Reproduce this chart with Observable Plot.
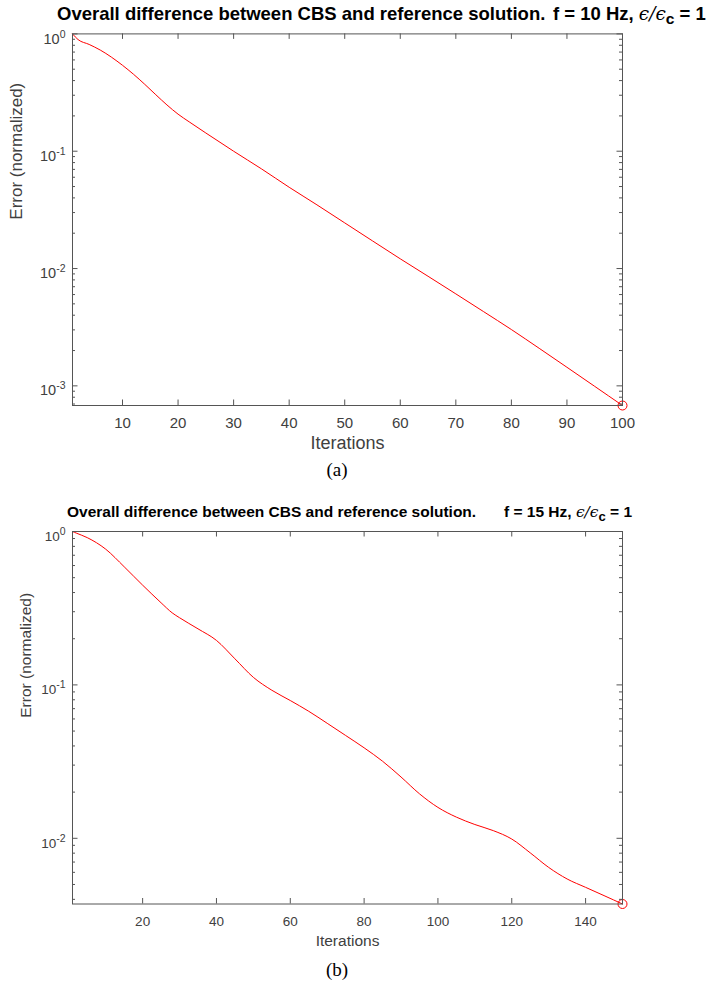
<!DOCTYPE html>
<html>
<head>
<meta charset="utf-8">
<script src="https://cdn.jsdelivr.net/npm/d3@7"></script>
<script src="https://cdn.jsdelivr.net/npm/@observablehq/plot@0.6"></script>
<style>
  body { margin: 0; background: #fff; }
  #wrap { position: relative; width: 707px; height: 983px; overflow: hidden; font-family: "Liberation Sans", Arial, Helvetica, sans-serif; }
  .panel { position: absolute; left: 0; }
  .title { position: absolute; font-weight: bold; white-space: pre; color: #000; line-height: 1; }
  .eps { font-family: "DejaVu Serif", "Liberation Serif", serif; font-style: italic; font-weight: normal; }
  .sub { position: relative; top: 0.28em; font-size: 0.84em; }
  .cap { position: absolute; font-family: "Liberation Serif", "Times New Roman", serif; font-size: 19px; line-height: 1; transform: translateX(-50%); color: #000; }
</style>
</head>
<body>
<div id="wrap">
  <div id="panelA" class="panel" style="top:0px"></div>
  <div id="panelB" class="panel" style="top:490px"></div>

  <div class="title" style="left:57px; top:5px; font-size:18.5px">Overall difference between CBS and reference solution.</div>
  <div class="title" style="left:553px; top:5px; font-size:18.5px">f = 10 Hz, <span class="eps">ϵ/ϵ</span><span class="sub">c</span> = 1</div>
  <div class="cap" style="left:337px; top:460px">(a)</div>

  <div class="title" style="left:67px; top:504px; font-size:15.5px">Overall difference between CBS and reference solution.</div>
  <div class="title" style="left:504px; top:504px; font-size:15.5px">f = 15 Hz, <span class="eps">ϵ/ϵ</span><span class="sub">c</span> = 1</div>
  <div class="cap" style="left:337px; top:960px">(b)</div>
</div>

<script>
// ---------- Data ----------
// Panel (a): f = 10 Hz
const iterA = [1, 2, 4, 6, 8, 10, 12, 14, 16, 18, 20, 22, 25, 30, 35, 40, 45, 50, 55, 60, 65, 70, 75, 80, 85, 90, 95, 100];
const errA  = [1.0, 0.895, 0.813, 0.728, 0.634, 0.540, 0.452, 0.372, 0.303, 0.248, 0.207, 0.178, 0.143, 0.100, 0.0708, 0.0493, 0.0349, 0.0245, 0.0172, 0.0121, 0.00859, 0.00608, 0.00429, 0.00302, 0.00209, 0.00144, 0.00099, 0.00068];

// Panel (b): f = 15 Hz
const iterB = [1, 2, 5, 10, 15, 20, 25, 28, 30, 35, 40, 45, 50, 55, 60, 65, 70, 75, 80, 85, 90, 95, 100, 105, 110, 115, 120, 125, 130, 135, 140, 145, 150];
const errB  = [1.0, 0.977, 0.912, 0.767, 0.589, 0.447, 0.343, 0.295, 0.274, 0.232, 0.195, 0.148, 0.112, 0.0923, 0.0791, 0.0673, 0.0562, 0.0468, 0.0389, 0.0318, 0.0251, 0.0195, 0.0159, 0.01374, 0.0123, 0.01122, 0.00989, 0.00804, 0.00646, 0.00543, 0.00479, 0.00423, 0.00373];

// Axes
const xTicksA = [10, 20, 30, 40, 50, 60, 70, 80, 90, 100];
const xTicksB = [20, 40, 60, 80, 100, 120, 140];
const yTicksA = [1, 0.1, 0.01, 0.001];
const yTicksB = [1, 0.1, 0.01];
const xDomainA = [1, 100];
const xDomainB = [1, 150];
const yDomainA = [0.00068, 1];
const yDomainB = [0.00373, 1];

const xLabel = "Iterations";
const yLabel = "Error (normalized)";

// ---------- Drawing ----------
const W = 707;
const ML = 72, MR = 85;
const AX = "#555";
const TXT = "#404040";
const RED = "#ff0000";

function panel({iters, errs, xDomain, yDomain, xTicks, yTicks, height, marginTop, marginBottom,
                yLabelDx, xTickSize, yTickSize, xLabelSize, yLabelSize, xLabelDy}) {
  const frameH = height - marginTop - marginBottom;
  const frameW = W - ML - MR;
  const data = iters.map((x, i) => ({x, y: errs[i]}));
  const last = [data[data.length - 1]];
  const minor = d3.scaleLog().domain(yDomain).ticks()
    .filter(t => Math.abs(Math.log10(t) - Math.round(Math.log10(t))) > 1e-6);
  const MAJ = 5.5, MIN = 3;

  const svg = Plot.plot({
    width: W,
    height,
    marginLeft: ML,
    marginRight: MR,
    marginTop,
    marginBottom,
    style: {fontFamily: "'Liberation Sans', Arial, Helvetica, sans-serif", fontSize: "14px", color: TXT, background: "white", overflow: "visible"},
    x: {domain: xDomain},
    y: {type: "log", domain: yDomain},
    marks: [
      Plot.line(data, {x: "x", y: "y", stroke: RED, strokeWidth: 1, curve: "monotone-x"}),
      Plot.dot(last, {x: "x", y: "y", r: 4.5, stroke: RED, strokeWidth: 1, fill: "none"}),
      // inward ticks on all four sides (MATLAB box style)
      Plot.tickX(xTicks, {x: d => d, insetTop: frameH - MAJ, stroke: AX}),
      Plot.tickX(xTicks, {x: d => d, insetBottom: frameH - MAJ, stroke: AX}),
      Plot.tickY(yTicks, {y: d => d, insetRight: frameW - MAJ, stroke: AX}),
      Plot.tickY(yTicks, {y: d => d, insetLeft: frameW - MAJ, stroke: AX}),
      Plot.tickY(minor, {y: d => d, insetRight: frameW - MIN, stroke: AX}),
      Plot.tickY(minor, {y: d => d, insetLeft: frameW - MIN, stroke: AX}),
      Plot.frame({stroke: AX, strokeWidth: 1}),
      Plot.axisX({ticks: xTicks, tickSize: 0, tickPadding: 12, label: null, fontSize: xTickSize, fill: TXT}),
      Plot.axisY({ticks: yTicks, tickSize: 0, tickPadding: 7, dy: 5, label: null, fontSize: yTickSize, fill: TXT,
                  tickFormat: d => "10^" + Math.round(Math.log10(d))}),
      Plot.text([xLabel], {frameAnchor: "bottom", dy: xLabelDy, text: d => d, fontSize: xLabelSize, fill: TXT, lineAnchor: "middle"}),
      Plot.text([yLabel], {frameAnchor: "left", dx: yLabelDx, rotate: -90, text: d => d, fontSize: yLabelSize, fill: TXT, lineAnchor: "middle"})
    ]
  });

  // turn "10^-1" tick labels into 10 with a superscript exponent
  svg.querySelectorAll('g[aria-label="y-axis tick label"] text').forEach(t => {
    const m = t.textContent.match(/^10\^(-?\d+)$/);
    if (!m) return;
    t.textContent = "10";
    const sup = document.createElementNS("http://www.w3.org/2000/svg", "tspan");
    sup.setAttribute("dy", "-6");
    sup.setAttribute("font-size", "10.5px");
    sup.textContent = m[1];
    t.appendChild(sup);
  });
  return svg;
}

document.getElementById("panelA").appendChild(panel({
  iters: iterA, errs: errA, xDomain: xDomainA, yDomain: yDomainA,
  xTicks: xTicksA, yTicks: yTicksA, height: 490, marginTop: 33.4, marginBottom: 85, yLabelDx: -55.5,
  xTickSize: 15, yTickSize: 14.5, xLabelSize: 18, yLabelSize: 17, xLabelDy: 38
}));
document.getElementById("panelB").appendChild(panel({
  iters: iterB, errs: errB, xDomain: xDomainB, yDomain: yDomainB,
  xTicks: xTicksB, yTicks: yTicksB, height: 493, marginTop: 41, marginBottom: 79.5, yLabelDx: -46,
  xTickSize: 13.5, yTickSize: 13.5, xLabelSize: 15.5, yLabelSize: 15.5, xLabelDy: 37.5
}));
</script>
</body>
</html>
